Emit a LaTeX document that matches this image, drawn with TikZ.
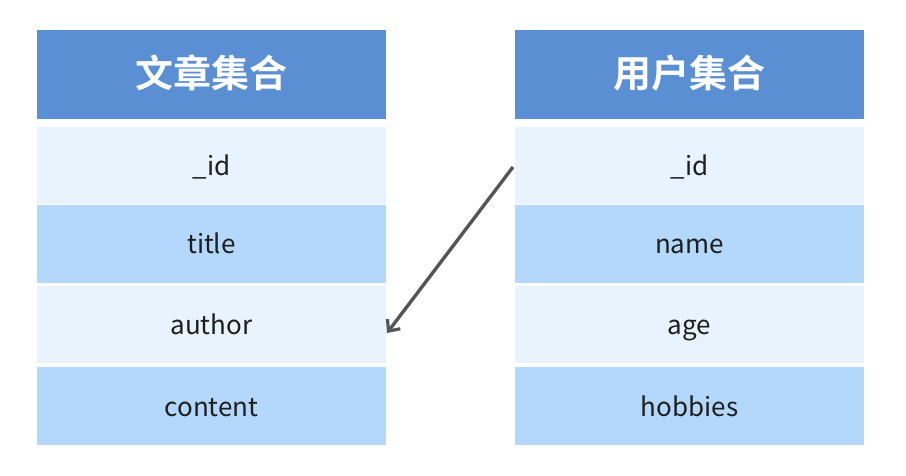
\documentclass[tikz,border=0pt]{standalone}
\usepackage{fontspec}
\setmainfont{Noto Sans CJK SC}
\newfontfamily\cjkbold{Noto Sans CJK SC Bold}
\usetikzlibrary{arrows.meta}
\definecolor{headblue}{HTML}{5A8FD3}
\definecolor{rowlight}{HTML}{E8F3FE}
\definecolor{rowdark}{HTML}{B3D8FB}
\definecolor{txt}{HTML}{1E1E1E}
\definecolor{arrowgray}{HTML}{555555}
\begin{document}
\begin{tikzpicture}[x=1pt,y=-1pt,
  cell/.style={minimum width=349pt, inner sep=0pt, outer sep=0pt, anchor=north west, text=txt, text height=20pt, text depth=0pt, font=\fontsize{26}{31}\selectfont},
  header/.style={cell, fill=headblue, minimum height=89pt, text=white, text height=30pt, text depth=4pt, font=\cjkbold\fontsize{38}{45}\selectfont},
  light/.style={cell, fill=rowlight, minimum height=77pt},
  dark/.style={cell, fill=rowdark, minimum height=78pt},
  link/.style={draw=arrowgray, line width=3.4pt, -{Straight Barb[length=9pt,width=16pt,line width=3.2pt]}}
]
\useasboundingbox (0,0) rectangle (906,476);
% left table
\node[header] (lh) at (37,30) {文章集合};
\node[light] (l1) at (37,127) {\_id};
\node[dark]  (l2) at (37,205) {title};
\node[light] (l3) at (37,286) {author};
\node[dark]  (l4) at (37,367) {content};
% right table
\node[header] (rh) at (515,30) {用户集合};
\node[light] (r1) at (515,127) {\_id};
\node[dark]  (r2) at (515,205) {name};
\node[light] (r3) at (515,286) {age};
\node[dark]  (r4) at (515,367) {hobbies};
% arrow
\coordinate (s) at ([xshift=-2pt,yshift=-1.5pt]r1.west);
\coordinate (e) at ([xshift=1pt,yshift=-8.5pt]l3.east);
\draw[link] (s) -- (e);
\end{tikzpicture}
\end{document}
